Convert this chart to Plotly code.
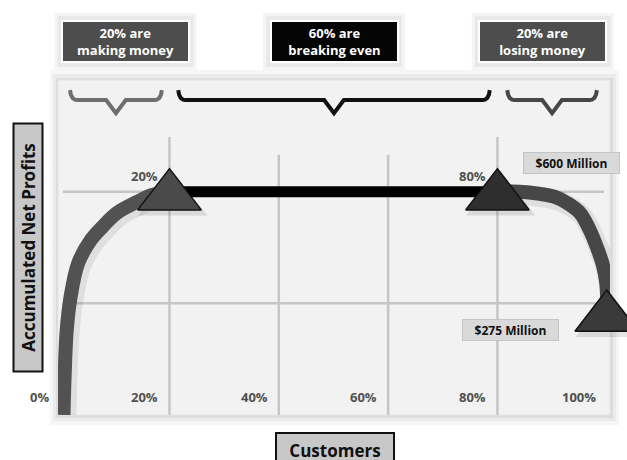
import plotly.graph_objects as go

# ---------------- data ----------------
tick_values = [0, 20, 40, 60, 80, 100]
tick_labels = ["0%", "20%", "40%", "60%", "80%", "100%"]
grid_x = [20, 40, 60, 80]
grid_x_top = [747, 699, 699, 747]
grid_y = [300, 600]

# accumulated net profits ($ millions) vs. share of customers (%)
making_x = [0.6, 0.8, 1.2, 1.9, 3.3, 5.6, 7.7, 10.4, 14.0, 16.8, 20]
making_y = [0, 100, 228, 317, 408, 470, 505, 543, 572, 591, 600]
breakeven_x = [20, 80]
breakeven_y = [600, 600]
losing_x = [80, 84.1, 87.8, 90.5, 92.7, 95.1, 96.9, 98.4, 99.3, 99.9, 100.1, 100.1]
losing_y = [600, 600, 594, 586, 570, 543, 497, 443, 403, 357, 309, 275]

milestone_x = [20, 80, 100]
milestone_y = [588, 588, 262]
milestone_colors = ["#4a4a4a", "#2e2e2e", "#3a3a3a"]
milestone_labels = ["20%", "80%"]

segment_labels = ["20% are<br>making money", "60% are<br>breaking even", "20% are<br>losing money"]
segment_box_x = [11.95, 50.1, 88.3]
segment_box_colors = ["#4d4d4d", "#050505", "#4d4d4d"]
segment_spans = [(1.8, 18.6), (21.6, 78.6), (81.8, 98.2)]
brace_colors = ["#6e6e6e", "#111111", "#474747"]

value_labels = ["$600 Million", "$275 Million"]

# ---------------- layout helpers ----------------
L, T, PW, PH = 58, 80, 552, 335
W, H = 627, 460


def px_x(px):
    return (px - L) / PW


def px_y(py):
    return (T + PH - py) / PH


def brace(x0, x1):
    mid = (x0 + x1) / 2
    top, base, tip = 873, 846, 811
    xs = [x0, x0 + 0.15, x0 + 0.45, x0 + 0.9, x0 + 1.3,
          mid - 1.8, mid, mid + 1.8,
          x1 - 1.3, x1 - 0.9, x1 - 0.45, x1 - 0.15, x1]
    ys = [top, top - 12, base + 6, base + 1, base,
          base, tip, base,
          base, base + 1, base + 6, top - 12, top]
    return xs, ys


fig = go.Figure()

# curve shadows
for xs, ys in [(making_x, making_y), (losing_x, losing_y)]:
    fig.add_trace(go.Scatter(x=[v + 0.5 for v in xs], y=[v - 9 for v in ys], mode="lines",
                             line=dict(color="rgba(0,0,0,0.08)", width=20, shape="spline", smoothing=1),
                             hoverinfo="skip", showlegend=False, cliponaxis=True))

fig.add_trace(go.Scatter(x=making_x, y=making_y, mode="lines",
                         line=dict(color="#525252", width=14, shape="spline", smoothing=1),
                         showlegend=False, cliponaxis=True))
fig.add_trace(go.Scatter(x=losing_x, y=losing_y, mode="lines",
                         line=dict(color="#474747", width=14, shape="spline", smoothing=1),
                         showlegend=False, cliponaxis=False))
fig.add_trace(go.Scatter(x=breakeven_x, y=breakeven_y, mode="lines",
                         line=dict(color="#000000", width=11),
                         showlegend=False))

# braces
for (x0, x1), col in zip(segment_spans, brace_colors):
    bx, by = brace(x0, x1)
    fig.add_trace(go.Scatter(x=bx, y=by, mode="lines",
                             line=dict(color=col, width=4),
                             hoverinfo="skip", showlegend=False, cliponaxis=False))

# triangle shadows + triangles
fig.add_trace(go.Scatter(x=[v + 0.6 for v in milestone_x], y=[v - 12 for v in milestone_y],
                         mode="markers",
                         marker=dict(symbol="triangle-up", size=60, color="rgba(0,0,0,0.10)",
                                     line=dict(width=0)),
                         hoverinfo="skip", showlegend=False, cliponaxis=False))
fig.add_trace(go.Scatter(x=milestone_x, y=milestone_y, mode="markers",
                         marker=dict(symbol="triangle-up", size=55, color=milestone_colors,
                                     line=dict(color="#111111", width=1.5)),
                         showlegend=False, cliponaxis=False))

shapes = []
# panel shadow and panel
shapes.append(dict(type="rect", xref="paper", yref="paper", layer="below",
                   x0=px_x(50), x1=px_x(619), y0=px_y(425), y1=px_y(70),
                   fillcolor="#f6f6f6", line=dict(width=0)))
shapes.append(dict(type="rect", xref="paper", yref="paper", layer="below",
                   x0=px_x(53), x1=px_x(616), y0=px_y(421), y1=px_y(74),
                   fillcolor="#ebebeb", line=dict(width=0)))
shapes.append(dict(type="rect", xref="paper", yref="paper", layer="below",
                   x0=px_x(56), x1=px_x(613), y0=px_y(418), y1=px_y(78),
                   fillcolor="#dcdcdc", line=dict(width=0)))
shapes.append(dict(type="rect", xref="paper", yref="paper", layer="below",
                   x0=0, x1=1, y0=0, y1=1,
                   fillcolor="#f2f2f2", line=dict(color="#e4e4e4", width=1)))
# top box halos
for cx in segment_box_x:
    cpx = L + (cx + 0.4) * PW / 101
    shapes.append(dict(type="rect", xref="paper", yref="paper", layer="below",
                       x0=px_x(cpx - 71), x1=px_x(cpx + 71), y0=px_y(71), y1=px_y(13),
                       fillcolor="#f5f5f5", line=dict(width=0)))
    shapes.append(dict(type="rect", xref="paper", yref="paper", layer="below",
                       x0=px_x(cpx - 68), x1=px_x(cpx + 68), y0=px_y(67), y1=px_y(16),
                       fillcolor="#e9e9e9", line=dict(width=0)))
# grid lines
for gx, gt in zip(grid_x, grid_x_top):
    shapes.append(dict(type="line", xref="x", yref="y", layer="below",
                       x0=gx, x1=gx, y0=0, y1=gt,
                       line=dict(color="#c6c6c6", width=2.5)))
for gy in grid_y:
    shapes.append(dict(type="line", xref="x", yref="y", layer="below",
                       x0=0.5, x1=99.5, y0=gy, y1=gy,
                       line=dict(color="#c6c6c6", width=2.5)))

annotations = []
FONT = "Open Sans"
# segment boxes
for lab, cx, col in zip(segment_labels, segment_box_x, segment_box_colors):
    annotations.append(dict(text="<b>" + lab + "</b>", x=cx, xref="x", y=px_y(41.5), yref="paper",
                            xanchor="center", yanchor="middle", showarrow=False,
                            width=125, height=39, bgcolor=col, bordercolor="#ffffff",
                            borderwidth=2, borderpad=0,
                            font=dict(family=FONT, size=13, color="#ffffff")))
# customer % labels along the bottom
for v, lab in zip(tick_values, tick_labels):
    annotations.append(dict(text="<b>" + lab + "</b>", x=v, xref="x", y=0, yref="y",
                            xanchor="right", yanchor="middle", xshift=-9, yshift=18,
                            showarrow=False,
                            font=dict(family=FONT, size=13, color="#505050")))
# milestone labels
for mx, lab in zip(milestone_x, milestone_labels):
    annotations.append(dict(text="<b>" + lab + "</b>", x=mx, xref="x", y=600, yref="y",
                            xanchor="right", yanchor="middle", xshift=-9, yshift=16,
                            showarrow=False,
                            font=dict(family=FONT, size=13, color="#505050")))
# value labels
for lab, (cx, cy) in zip(value_labels, [(571.5, 163), (510, 330)]):
    annotations.append(dict(text="<b>" + lab + "</b>", x=px_x(cx), xref="paper", y=px_y(cy), yref="paper",
                            xanchor="center", yanchor="middle", showarrow=False,
                            width=95, height=20, bgcolor="#d9d9d9", bordercolor="#c4c4c4",
                            borderwidth=1, borderpad=0,
                            font=dict(family=FONT, size=12, color="#111111")))
# axis title boxes
annotations.append(dict(text="<b>Accumulated Net Profits</b>", x=px_x(27.5), xref="paper",
                        y=px_y(248), yref="paper", xanchor="center", yanchor="middle",
                        textangle=-90, showarrow=False, width=246, height=27,
                        bgcolor="#c8c8c8", bordercolor="#111111", borderwidth=2, borderpad=0,
                        font=dict(family=FONT, size=17, color="#111111")))
annotations.append(dict(text="<b>Customers</b>", x=px_x(335), xref="paper",
                        y=px_y(450), yref="paper", xanchor="center", yanchor="middle",
                        showarrow=False, width=116, height=32,
                        bgcolor="#c8c8c8", bordercolor="#111111", borderwidth=2, borderpad=0,
                        font=dict(family=FONT, size=17, color="#111111")))

fig.update_layout(
    width=W, height=H,
    margin=dict(l=L, r=W - L - PW, t=T, b=H - T - PH, pad=0),
    paper_bgcolor="#ffffff", plot_bgcolor="rgba(0,0,0,0)",
    xaxis=dict(range=[-0.4, 100.6], visible=False, fixedrange=True),
    yaxis=dict(range=[0, 900], visible=False, fixedrange=True),
    shapes=shapes, annotations=annotations,
    showlegend=False,
)

fig.write_html("out.html", config={"displayModeBar": False})
